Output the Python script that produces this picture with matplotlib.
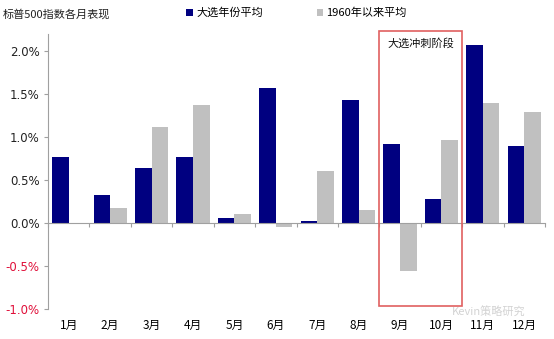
import matplotlib
matplotlib.use("Agg")
import matplotlib.pyplot as plt
import numpy as np
from matplotlib.patches import Rectangle

plt.rcParams['font.family'] = ['Noto Sans CJK SC', 'DejaVu Sans']

months = ["1月", "2月", "3月", "4月", "5月", "6月", "7月", "8月", "9月", "10月", "11月", "12月"]
election_avg = [0.77, 0.32, 0.64, 0.77, 0.06, 1.57, 0.02, 1.43, 0.92, 0.28, 2.07, 0.90]
since1960_avg = [0.0, 0.18, 1.12, 1.37, 0.10, -0.05, 0.61, 0.15, -0.56, 0.96, 1.40, 1.29]
yticks = [-1.0, -0.5, 0.0, 0.5, 1.0, 1.5, 2.0]
title = "标普500指数各月表现"
legend_labels = ["大选年份平均", "1960年以来平均"]
box_label = "大选冲刺阶段"

navy = "#000080"
gray = "#C0C0C0"
axis_col = "#A0A0A0"

W, H = 554, 339
fig = plt.figure(figsize=(W / 100, H / 100), dpi=100)
ax = fig.add_axes([48 / W, (H - 309) / H, (545 - 48) / W, (309 - 33.8) / H])

x = np.arange(len(months))
bw = 0.4
ax.bar(x - bw / 2, election_avg, bw, color=navy, label=legend_labels[0], zorder=2)
ax.bar(x + bw / 2, since1960_avg, bw, color=gray, label=legend_labels[1], zorder=2)

ax.set_xlim(-0.5, len(months) - 0.5)
ax.set_ylim(-1.0, 2.2)

# y axis
ax.set_yticks(yticks)
ax.set_yticklabels([f"{v:.1f}%" for v in yticks], fontsize=8.5, family=['DejaVu Sans'])
for lbl, v in zip(ax.get_yticklabels(), yticks):
    lbl.set_color("#E0103A" if v < 0 else "#222222")
ax.tick_params(axis='y', length=3, color=axis_col, pad=3)
ax.spines['left'].set_color(axis_col)
ax.spines['right'].set_visible(False)
ax.spines['top'].set_visible(False)

# zero line with boundary ticks
ax.spines['bottom'].set_position(('data', 0))
ax.spines['bottom'].set_color(axis_col)
ax.set_xticks(np.arange(-0.5, len(months), 1.0))
ax.set_xticklabels([])
ax.tick_params(axis='x', length=3, color=axis_col)

sec = ax.secondary_xaxis('bottom')
sec.set_xticks(x)
sec.set_xticklabels(months, fontsize=8.5)
sec.tick_params(length=0, pad=7)
sec.spines['bottom'].set_visible(False)

# highlight box
rect = Rectangle((7.5, -0.965), 2.0, 3.2, fill=False, edgecolor="#E06060", linewidth=1.2,
                 zorder=3, clip_on=False)
ax.add_patch(rect)
ax.text(8.5, 2.15, box_label, ha='center', va='top', fontsize=8, color="#111111")

# title and legend
fig.text(3 / W, 1 - 14 / H, title, fontsize=8, va='center', ha='left', color="#222222")
ax.legend(loc='upper left', bbox_to_anchor=(182 / W, 1 - 3 / H), bbox_transform=fig.transFigure,
          ncol=2, frameon=False, fontsize=8, handlelength=0.6, handleheight=0.6,
          handletextpad=0.3, columnspacing=4.8, borderaxespad=0)

# watermark
fig.text(452 / W, 1 - 311 / H, "Kevin策略研究", fontsize=8, color="#C8C8C8", ha='left', va='center',
         alpha=0.8)

fig.savefig("out.png", dpi=100)
